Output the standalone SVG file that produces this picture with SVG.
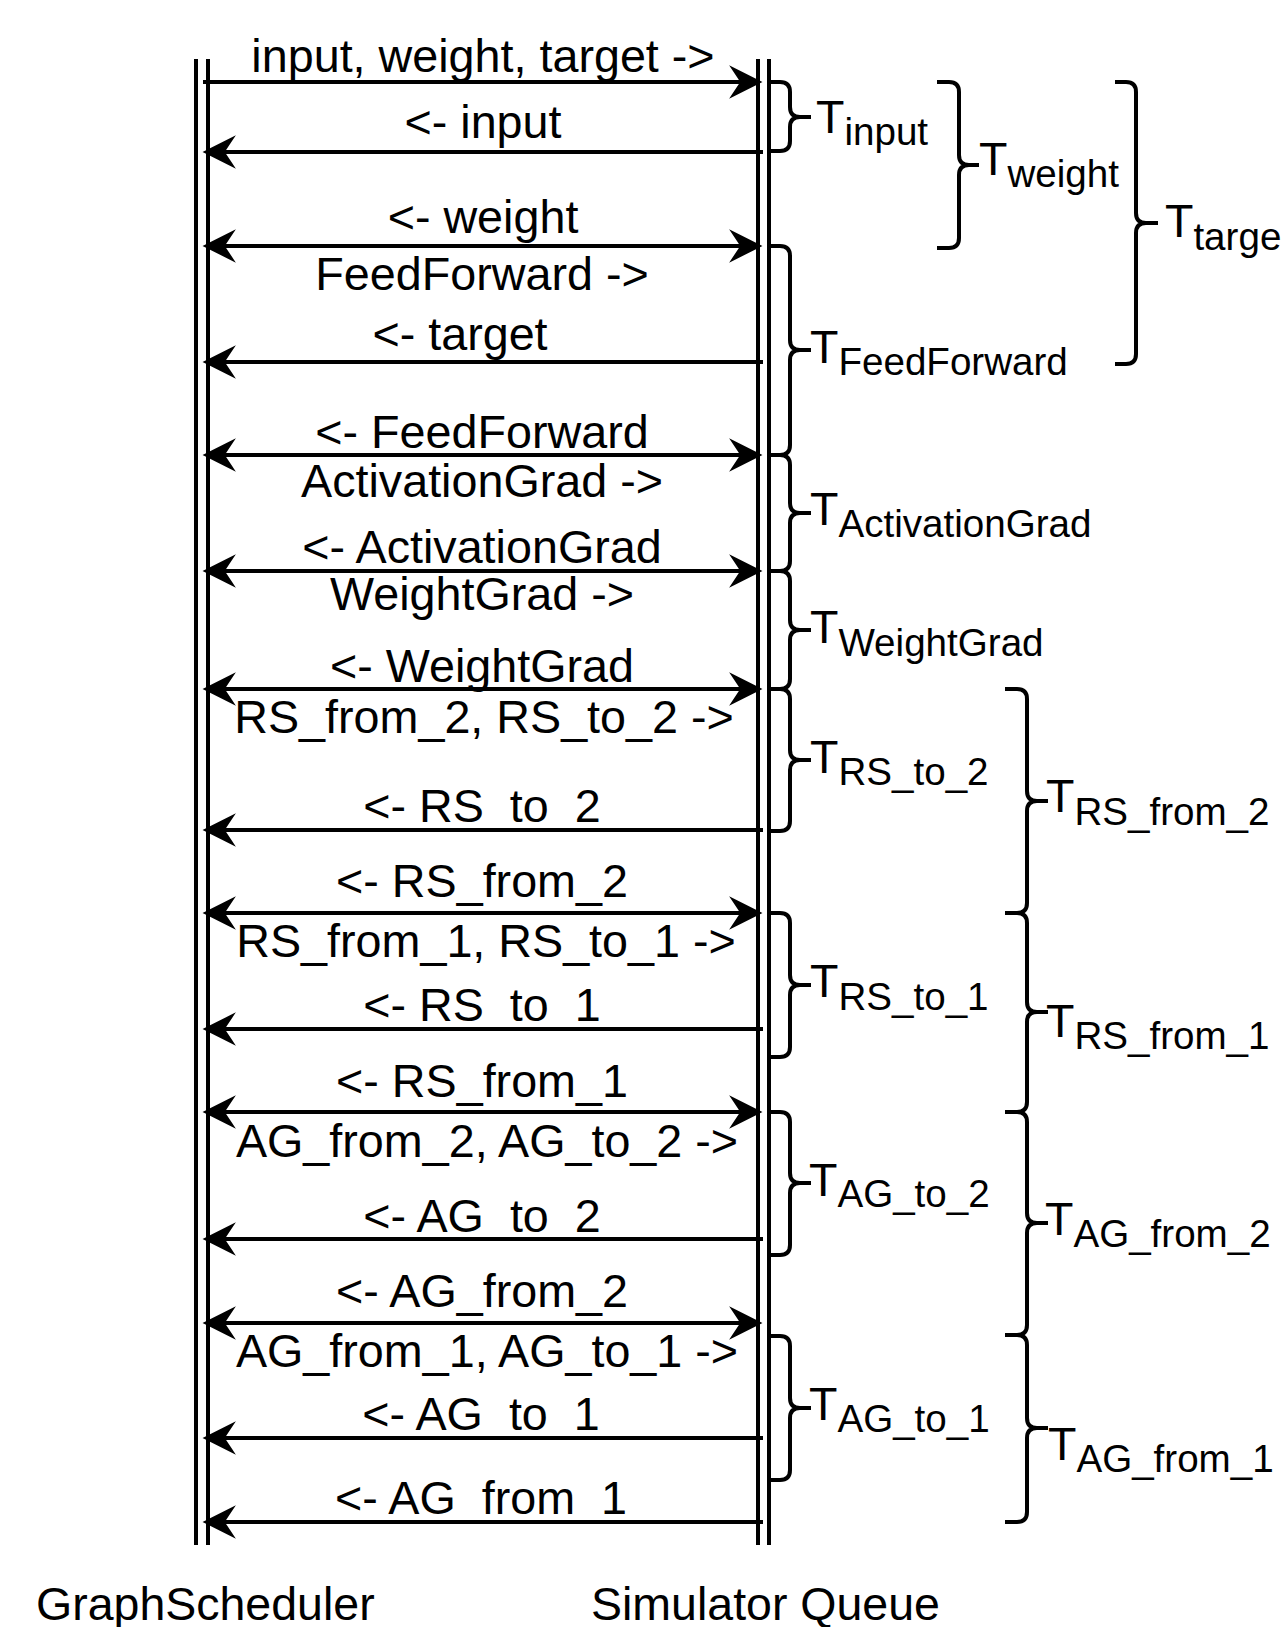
<svg xmlns="http://www.w3.org/2000/svg" width="1284" height="1627" viewBox="0 0 1284 1627">
<style>
  text { font-family: "Liberation Sans", Arial, sans-serif; fill: #000; }
  .lbl { font-size: 46.7px; text-anchor: middle; }
  .tl { font-size: 46.5px; }
  .sub { font-size: 38.6px; }
  .life { stroke: #000; stroke-width: 4; fill: none; }
  .msg { stroke: #000; stroke-width: 4; fill: none; }
  .brace { stroke: #000; stroke-width: 4; fill: none; stroke-linejoin: round; }
</style>
<defs>
  <marker id="ah" markerUnits="userSpaceOnUse" markerWidth="40" markerHeight="40" viewBox="-30 -18 36 36" refX="0" refY="0" orient="auto-start-reverse">
    <path d="M4,0 L-26,-15 Q-20,-6 -16,0 Q-20,6 -26,15 Z" fill="#000"/>
  </marker>
</defs>
<rect width="1284" height="1627" fill="#fff"/>

<g id="lifeline-graphscheduler">
  <line class="life" x1="196" y1="59" x2="196" y2="1545"/>
  <line class="life" x1="208" y1="59" x2="208" y2="1545"/>
  <text class="tl" x="36" y="1620">GraphScheduler</text>
</g>
<g id="lifeline-simulatorqueue">
  <line class="life" x1="758" y1="59" x2="758" y2="1545"/>
  <line class="life" x1="769" y1="59" x2="769" y2="1545"/>
  <text class="tl" x="591" y="1620">Simulator Queue</text>
</g>

<g id="connectors">
  <line class="msg" x1="203" y1="82" x2="758" y2="82" marker-end="url(#ah)"/>
  <line class="msg" x1="763" y1="152" x2="207" y2="152" marker-end="url(#ah)"/>
  <line class="msg" x1="207" y1="246" x2="758" y2="246" marker-start="url(#ah)" marker-end="url(#ah)"/>
  <line class="msg" x1="763" y1="362" x2="207" y2="362" marker-end="url(#ah)"/>
  <line class="msg" x1="207" y1="455" x2="758" y2="455" marker-start="url(#ah)" marker-end="url(#ah)"/>
  <line class="msg" x1="207" y1="571" x2="758" y2="571" marker-start="url(#ah)" marker-end="url(#ah)"/>
  <line class="msg" x1="207" y1="689" x2="758" y2="689" marker-start="url(#ah)" marker-end="url(#ah)"/>
  <line class="msg" x1="763" y1="830" x2="207" y2="830" marker-end="url(#ah)"/>
  <line class="msg" x1="207" y1="913" x2="758" y2="913" marker-start="url(#ah)" marker-end="url(#ah)"/>
  <line class="msg" x1="763" y1="1029" x2="207" y2="1029" marker-end="url(#ah)"/>
  <line class="msg" x1="207" y1="1112" x2="758" y2="1112" marker-start="url(#ah)" marker-end="url(#ah)"/>
  <line class="msg" x1="763" y1="1239" x2="207" y2="1239" marker-end="url(#ah)"/>
  <line class="msg" x1="207" y1="1323" x2="758" y2="1323" marker-start="url(#ah)" marker-end="url(#ah)"/>
  <line class="msg" x1="763" y1="1438" x2="207" y2="1438" marker-end="url(#ah)"/>
  <line class="msg" x1="763" y1="1522" x2="207" y2="1522" marker-end="url(#ah)"/>
</g>

<g id="message-labels">
  <text class="lbl" x="483" y="72">input, weight, target -&gt;</text>
  <text class="lbl" x="483" y="138">&lt;- input</text>
  <text class="lbl" x="483" y="233">&lt;- weight</text>
  <text class="lbl" x="482" y="290">FeedForward -&gt;</text>
  <text class="lbl" x="460" y="350">&lt;- target</text>
  <text class="lbl" x="482" y="448">&lt;- FeedForward</text>
  <text class="lbl" x="482" y="497">ActivationGrad -&gt;</text>
  <text class="lbl" x="482" y="563">&lt;- ActivationGrad</text>
  <text class="lbl" x="482" y="610">WeightGrad -&gt;</text>
  <text class="lbl" x="482" y="682">&lt;- WeightGrad</text>
  <text class="lbl" x="484" y="733">RS_from_2, RS_to_2 -&gt;</text>
  <text class="lbl" x="482" y="822">&lt;- RS_to_2</text>
  <text class="lbl" x="482" y="897">&lt;- RS_from_2</text>
  <text class="lbl" x="486" y="957">RS_from_1, RS_to_1 -&gt;</text>
  <text class="lbl" x="482" y="1021">&lt;- RS_to_1</text>
  <text class="lbl" x="482" y="1097">&lt;- RS_from_1</text>
  <text class="lbl" x="487" y="1157">AG_from_2, AG_to_2 -&gt;</text>
  <text class="lbl" x="482" y="1232">&lt;- AG_to_2</text>
  <text class="lbl" x="482" y="1307">&lt;- AG_from_2</text>
  <text class="lbl" x="487" y="1367">AG_from_1, AG_to_1 -&gt;</text>
  <text class="lbl" x="481" y="1430">&lt;- AG_to_1</text>
  <text class="lbl" x="481" y="1514">&lt;- AG_from_1</text>
</g>

<g id="T_input">
  <path class="brace" d="M769,82 H780 Q790,82 790,92 V107 Q790,117 800,117 H811 M800,117 Q790,117 790,127 V141 Q790,151 780,151 H769"/>
  <text class="tl" x="816" y="133">T<tspan class="sub" dy="12">input</tspan></text>
</g>
<g id="T_weight">
  <path class="brace" d="M937,82 H949 Q959,82 959,92 V155 Q959,165 969,165 H979 M969,165 Q959,165 959,175 V238 Q959,248 949,248 H937"/>
  <text class="tl" x="979" y="175">T<tspan class="sub" dy="12">weight</tspan></text>
</g>
<g id="T_target">
  <path class="brace" d="M1115,82 H1126 Q1136,82 1136,92 V213 Q1136,223 1146,223 H1158 M1146,223 Q1136,223 1136,233 V354 Q1136,364 1126,364 H1115"/>
  <text class="tl" x="1165" y="237">T<tspan class="sub" dy="13">targe</tspan></text>
</g>
<g id="T_FeedForward">
  <path class="brace" d="M769,246 H780 Q790,246 790,256 V340 Q790,350 800,350 H811 M800,350 Q790,350 790,360 V445 Q790,455 780,455 H769"/>
  <text class="tl" x="810" y="363">T<tspan class="sub" dy="12">FeedForward</tspan></text>
</g>
<g id="T_ActivationGrad">
  <path class="brace" d="M769,455 H780 Q790,455 790,465 V503 Q790,513 800,513 H811 M800,513 Q790,513 790,523 V561 Q790,571 780,571 H769"/>
  <text class="tl" x="810" y="525">T<tspan class="sub" dy="12">ActivationGrad</tspan></text>
</g>
<g id="T_WeightGrad">
  <path class="brace" d="M769,571 H780 Q790,571 790,581 V620 Q790,630 800,630 H811 M800,630 Q790,630 790,640 V679 Q790,689 780,689 H769"/>
  <text class="tl" x="810" y="643">T<tspan class="sub" dy="13">WeightGrad</tspan></text>
</g>
<g id="T_RS_to_2">
  <path class="brace" d="M769,689 H780 Q790,689 790,699 V750 Q790,760 800,760 H811 M800,760 Q790,760 790,770 V821 Q790,831 780,831 H769"/>
  <text class="tl" x="810" y="773">T<tspan class="sub" dy="12">RS_to_2</tspan></text>
</g>
<g id="T_RS_to_1">
  <path class="brace" d="M769,913 H780 Q790,913 790,923 V975 Q790,985 800,985 H811 M800,985 Q790,985 790,995 V1047 Q790,1057 780,1057 H769"/>
  <text class="tl" x="810" y="997">T<tspan class="sub" dy="13">RS_to_1</tspan></text>
</g>
<g id="T_AG_to_2">
  <path class="brace" d="M769,1112 H780 Q790,1112 790,1122 V1173 Q790,1183 800,1183 H811 M800,1183 Q790,1183 790,1193 V1245 Q790,1255 780,1255 H769"/>
  <text class="tl" x="809" y="1196">T<tspan class="sub" dy="11">AG_to_2</tspan></text>
</g>
<g id="T_AG_to_1">
  <path class="brace" d="M769,1336 H780 Q790,1336 790,1346 V1398 Q790,1408 800,1408 H811 M800,1408 Q790,1408 790,1418 V1470 Q790,1480 780,1480 H769"/>
  <text class="tl" x="809" y="1420">T<tspan class="sub" dy="12">AG_to_1</tspan></text>
</g>
<g id="T_RS_from_2">
  <path class="brace" d="M1005,689 H1017 Q1027,689 1027,699 V791 Q1027,801 1037,801 H1048 M1037,801 Q1027,801 1027,811 V903 Q1027,913 1017,913 H1005"/>
  <text class="tl" x="1046" y="812">T<tspan class="sub" dy="13">RS_from_2</tspan></text>
</g>
<g id="T_RS_from_1">
  <path class="brace" d="M1005,913 H1017 Q1027,913 1027,923 V1002 Q1027,1012 1037,1012 H1048 M1037,1012 Q1027,1012 1027,1022 V1102 Q1027,1112 1017,1112 H1005"/>
  <text class="tl" x="1046" y="1037">T<tspan class="sub" dy="12">RS_from_1</tspan></text>
</g>
<g id="T_AG_from_2">
  <path class="brace" d="M1005,1112 H1017 Q1027,1112 1027,1122 V1213 Q1027,1223 1037,1223 H1048 M1037,1223 Q1027,1223 1027,1233 V1325 Q1027,1335 1017,1335 H1005"/>
  <text class="tl" x="1045" y="1235">T<tspan class="sub" dy="12">AG_from_2</tspan></text>
</g>
<g id="T_AG_from_1">
  <path class="brace" d="M1005,1335 H1017 Q1027,1335 1027,1345 V1418 Q1027,1428 1037,1428 H1048 M1037,1428 Q1027,1428 1027,1438 V1512 Q1027,1522 1017,1522 H1005"/>
  <text class="tl" x="1048" y="1460">T<tspan class="sub" dy="12">AG_from_1</tspan></text>
</g>
</svg>
